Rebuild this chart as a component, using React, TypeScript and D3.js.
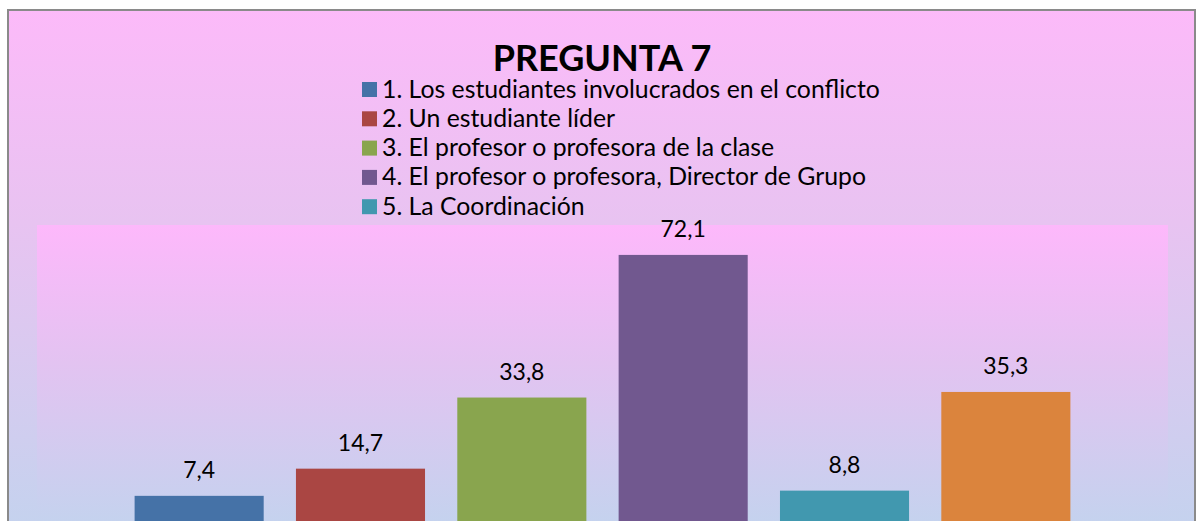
import React from "react";
import * as d3 from "d3";

const title = "PREGUNTA 7";
const categories = ["1", "2", "3", "4", "5", "6"];
const values = [7.4, 14.7, 33.8, 72.1, 8.8, 35.3];
const valueLabels = ["7,4", "14,7", "33,8", "72,1", "8,8", "35,3"];
const legendLabels = [
  "1. Los estudiantes involucrados en el conflicto",
  "2. Un estudiante líder",
  "3. El profesor o profesora de la clase",
  "4. El profesor o profesora, Director de Grupo",
  "5. La Coordinación",
];
const colors = ["#4572A7", "#AA4643", "#89A54E", "#71588F", "#4198AF", "#DB843D"];

const W = 1198;
const H = 521;
const FONT = "Lato, 'Open Sans', sans-serif";

export default function App() {
  const plot = { x0: 37, x1: 1168, y0: 225, y1: 530 };
  const x = d3
    .scaleBand<string>()
    .domain(categories)
    .range([plot.x0, plot.x1])
    .paddingInner(0.2)
    .paddingOuter(0.605);
  const y = d3.scaleLinear().domain([0, 80]).range([523.4, 225.5]);

  return (
    <svg
      width={W}
      height={H}
      style={{ position: "absolute", left: 0, top: 0, display: "block" }}
    >
      <defs>
        <linearGradient id="outerG" x1="0" y1="0" x2="0" y2="1">
          <stop offset="0%" stopColor="#FCBAF9" />
          <stop offset="40%" stopColor="#E8C3F1" />
          <stop offset="100%" stopColor="#C3D3EE" />
        </linearGradient>
        <linearGradient id="plotG" x1="0" y1="0" x2="0" y2="1">
          <stop offset="0%" stopColor="#FDB8FB" />
          <stop offset="45%" stopColor="#E3C3F1" />
          <stop offset="100%" stopColor="#C3D3EE" />
        </linearGradient>
      </defs>
      <rect x={0} y={0} width={W} height={H} fill="#ffffff" />
      <rect
        x={8}
        y={10}
        width={1187}
        height={530}
        fill="url(#outerG)"
        stroke="#8a8a8a"
        strokeWidth={2}
      />
      <text
        x={602}
        y={71}
        textAnchor="middle"
        fontFamily={FONT}
        fontWeight="bold"
        fontSize={36}
        fill="#000"
      >
        {title}
      </text>
      {legendLabels.map((l, i) => (
        <g key={l}>
          <rect x={362} y={82 + i * 29.3} width={15} height={15} fill={colors[i]} />
          <text
            x={382}
            y={97.5 + i * 29.3}
            fontFamily={FONT}
            fontSize={24.8}
            fill="#000"
          >
            {l}
          </text>
        </g>
      ))}
      <rect
        x={plot.x0}
        y={plot.y0}
        width={plot.x1 - plot.x0}
        height={plot.y1 - plot.y0}
        fill="url(#plotG)"
      />
      {categories.map((c, i) => (
        <g key={c}>
          <rect
            x={x(c)}
            y={y(values[i])}
            width={x.bandwidth()}
            height={y(0) - y(values[i])}
            fill={colors[i]}
          />
          <text
            x={(x(c) as number) + x.bandwidth() / 2}
            y={y(values[i]) - 17.5}
            textAnchor="middle"
            fontFamily={FONT}
            fontSize={23}
            fill="#000"
          >
            {valueLabels[i]}
          </text>
        </g>
      ))}
    </svg>
  );
}
